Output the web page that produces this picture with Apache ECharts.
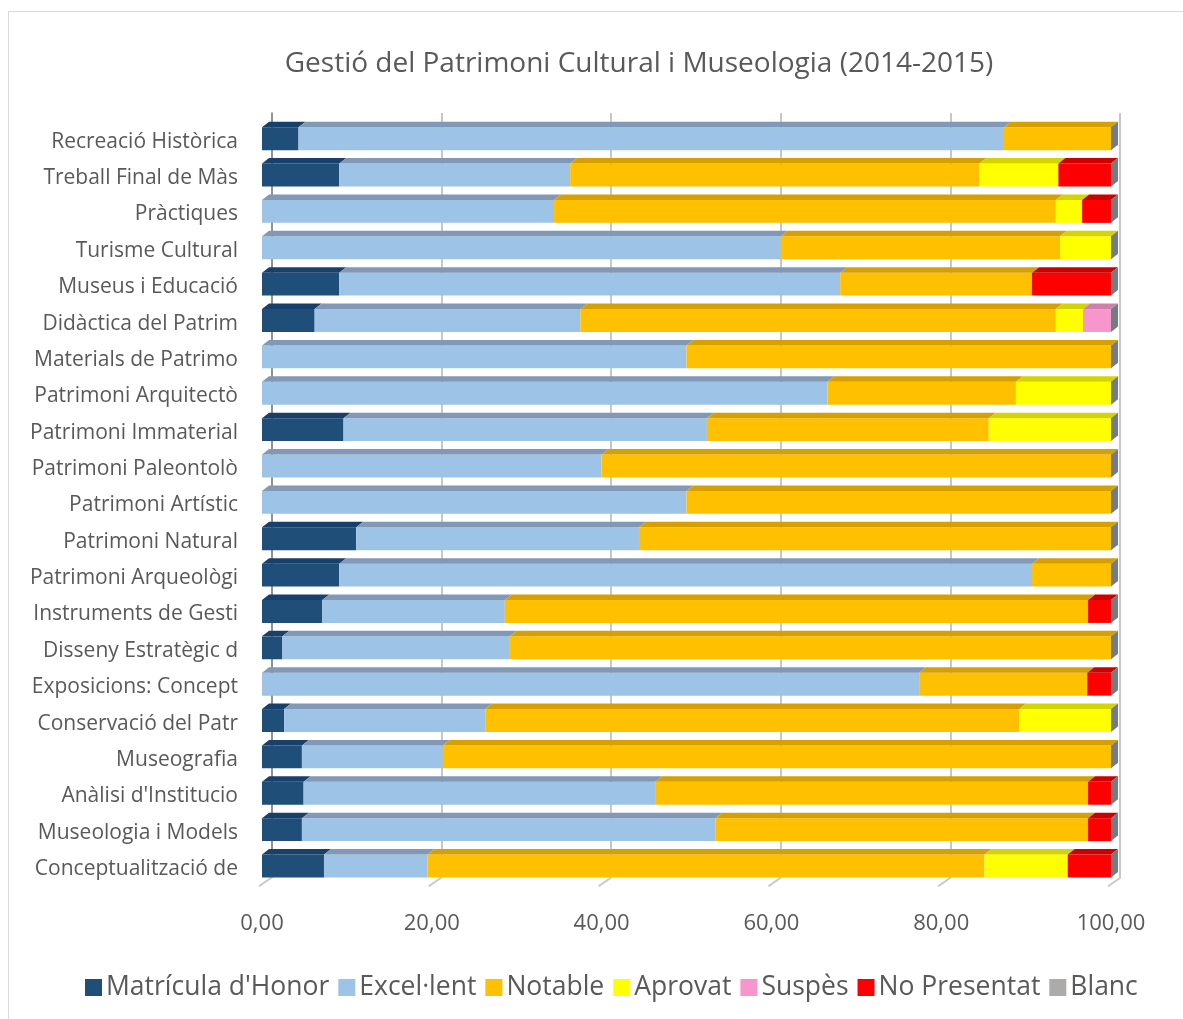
<!DOCTYPE html>
<html>
<head>
<meta charset="utf-8">
<script src="https://cdn.jsdelivr.net/npm/echarts@6/dist/echarts.min.js"></script>
<style>
  html, body { margin: 0; padding: 0; background: #fff; }
  #frame { position: absolute; left: 8px; top: 11px; width: 1200px; height: 1020px; border: 1.5px solid #d9d9d9; }
  #chart { position: absolute; left: 0; top: 0; width: 1183px; height: 1019px; }
</style>
</head>
<body>
<div id="frame"></div>
<div id="chart"></div>
<script>
// categories, top to bottom
const categories = [
  'Recreació Històrica', 'Treball Final de Màs', 'Pràctiques', 'Turisme Cultural',
  'Museus i Educació', 'Didàctica del Patrim', 'Materials de Patrimo', 'Patrimoni Arquitectò',
  'Patrimoni Immaterial', 'Patrimoni Paleontolò', 'Patrimoni Artístic', 'Patrimoni Natural',
  'Patrimoni Arqueològi', 'Instruments de Gesti', 'Disseny Estratègic d', 'Exposicions: Concept',
  'Conservació del Patr', 'Museografia', "Anàlisi d'Institucio", 'Museologia i Models',
  'Conceptualització de'
]
const matricula   = [4.3, 9.1, 0, 0, 9.1, 6.2, 0, 0, 9.6, 0, 0, 11.1, 9.1, 7.1, 2.4, 0, 2.6, 4.7, 4.9, 4.7, 7.3]
const excelent    = [83.1, 27.2, 34.4, 61.1, 59.0, 31.3, 50.0, 66.6, 42.8, 40.0, 50.0, 33.3, 81.6, 21.5, 26.8, 77.4, 23.7, 16.6, 41.4, 48.7, 12.2]
const notable     = [12.6, 48.2, 59.1, 32.9, 22.6, 56.0, 50.0, 22.2, 33.2, 60.0, 50.0, 55.6, 9.3, 68.7, 70.8, 19.8, 62.9, 78.7, 51.0, 43.9, 65.6]
const aprovat     = [0, 9.3, 3.1, 6.0, 0, 3.2, 0, 11.2, 14.4, 0, 0, 0, 0, 0, 0, 0, 10.8, 0, 0, 0, 9.8]
const suspes      = [0, 0, 0, 0, 0, 3.3, 0, 0, 0, 0, 0, 0, 0, 0, 0, 0, 0, 0, 0, 0, 0]
const noPresentat = [0, 6.2, 3.4, 0, 9.3, 0, 0, 0, 0, 0, 0, 0, 0, 2.7, 0, 2.8, 0, 0, 2.7, 2.7, 5.1]
const blanc       = [0, 0, 0, 0, 0, 0, 0, 0, 0, 0, 0, 0, 0, 0, 0, 0, 0, 0, 0, 0, 0]
const xTicks = [0, 20, 40, 60, 80, 100]

const seriesDefs = [
  { name: "Matrícula d'Honor", values: matricula, color: '#1f4e79', top: '#19406a' },
  { name: 'Excel·lent', values: excelent, color: '#9dc3e6', top: '#8199b6' },
  { name: 'Notable', values: notable, color: '#ffc000', top: '#d6a100' },
  { name: 'Aprovat', values: aprovat, color: '#ffff00', top: '#d4d400' },
  { name: 'Suspès', values: suspes, color: '#f796cc', top: '#d07eab' },
  { name: 'No Presentat', values: noPresentat, color: '#ff0000', top: '#cc0000' },
  { name: 'Blanc', values: blanc, color: '#adaaaa', top: '#8a8a8a' }
]

const DX = 7
const DY = 5.5
const textColor = '#595959'
const font = '"Open Sans", sans-serif'

// running totals for the stacking
const running = categories.map(() => 0)
const barSeries = seriesDefs.map((def, si) => {
  const isLast = si === seriesDefs.length - 1
  const data = def.values.map((v, i) => {
    const start = running[i]
    running[i] += v
    return [start, running[i], i]
  })
  return {
    name: def.name,
    type: 'custom',
    xAxisIndex: 0,
    yAxisIndex: 0,
    itemStyle: { color: def.color },
    encode: { x: [0, 1], y: 2 },
    data,
    renderItem (params, api) {
      const p0 = api.coord([api.value(0), api.value(2)])
      const p1 = api.coord([api.value(1), api.value(2)])
      const h = api.size([0, 1])[1] * 0.63
      const yTop = p0[1] - h / 2
      const yBot = p0[1] + h / 2
      const w = p1[0] - p0[0]
      const children = []
      if (w > 0.01) {
        children.push({
          type: 'rect',
          shape: { x: p0[0], y: yTop, width: w, height: h },
          style: { fill: def.color }
        })
        children.push({
          type: 'polygon',
          shape: { points: [[p0[0], yTop], [p1[0], yTop], [p1[0] + DX, yTop - DY], [p0[0] + DX, yTop - DY]] },
          style: { fill: def.top }
        })
      }
      if (isLast) {
        // right end face of the stacked box
        children.push({
          type: 'polygon',
          shape: { points: [[p1[0], yTop], [p1[0] + DX, yTop - DY], [p1[0] + DX, yBot - DY], [p1[0], yBot]] },
          style: { fill: '#737b85' }
        })
      }
      return { type: 'group', children }
    }
  }
})

// diagonal floor ticks
const floorSeries = {
  type: 'custom',
  xAxisIndex: 0,
  yAxisIndex: 0,
  silent: true,
  z: 1,
  data: xTicks.map(v => [v]),
  encode: { x: 0 },
  renderItem (params, api) {
    const x = api.coord([api.value(0), 0])[0]
    const bottom = params.coordSys.y + params.coordSys.height
    return {
      type: 'line',
      shape: { x1: x + 10, y1: bottom - 7, x2: x - 3, y2: bottom + 2 },
      style: { stroke: '#c8c8c8', lineWidth: 2 }
    }
  }
}

const option = {
  animation: false,
  title: {
    text: 'Gestió del Patrimoni Cultural i Museologia (2014-2015)',
    left: 634,
    top: 45,
    textAlign: 'center',
    textStyle: { color: textColor, fontSize: 28, fontWeight: 'normal', fontFamily: font }
  },
  legend: {
    top: 969,
    left: 80,
    icon: 'rect',
    itemWidth: 17,
    itemHeight: 17,
    itemGap: 9,
    textStyle: { color: textColor, fontSize: 26.5, fontFamily: font, padding: [0, 0, 0, -1] },
    data: seriesDefs.map(d => d.name)
  },
  grid: [
    { left: 262, right: 72, top: 120.5, bottom: 134.8 },
    { left: 272, right: 63, top: 113, bottom: 142 }
  ],
  xAxis: [
    {
      gridIndex: 0,
      type: 'value',
      min: 0,
      max: 100,
      interval: 20,
      axisLine: { show: false },
      axisTick: { show: false },
      splitLine: { show: false },
      axisLabel: {
        margin: 29,
        color: textColor,
        fontSize: 22,
        fontFamily: font,
        formatter: v => v.toFixed(2).replace('.', ',')
      }
    },
    {
      gridIndex: 1,
      type: 'value',
      min: 0,
      max: 100,
      interval: 20,
      axisLine: { show: false },
      axisTick: { show: false },
      axisLabel: { show: false },
      splitLine: { show: true, lineStyle: { color: '#b4b4b4', width: 1.5 } }
    }
  ],
  yAxis: [
    {
      gridIndex: 0,
      type: 'category',
      inverse: true,
      data: categories,
      axisLine: { show: false },
      axisTick: { show: false },
      axisLabel: {
        margin: 24,
        formatter: v => '{c|' + v + '}',
        rich: {
          c: { color: textColor, fontSize: 21, fontFamily: font, padding: [6, 0, 0, 0] }
        }
      }
    },
    {
      gridIndex: 1,
      type: 'value',
      position: 'right',
      axisLine: { show: true, lineStyle: { color: '#7f7f7f', width: 1.5 } },
      axisTick: { show: false },
      axisLabel: { show: false },
      splitLine: { show: false }
    }
  ],
  series: [floorSeries, ...barSeries]
}

const myChart = echarts.init(document.getElementById('chart'))
myChart.setOption(option)
</script>
</body>
</html>
